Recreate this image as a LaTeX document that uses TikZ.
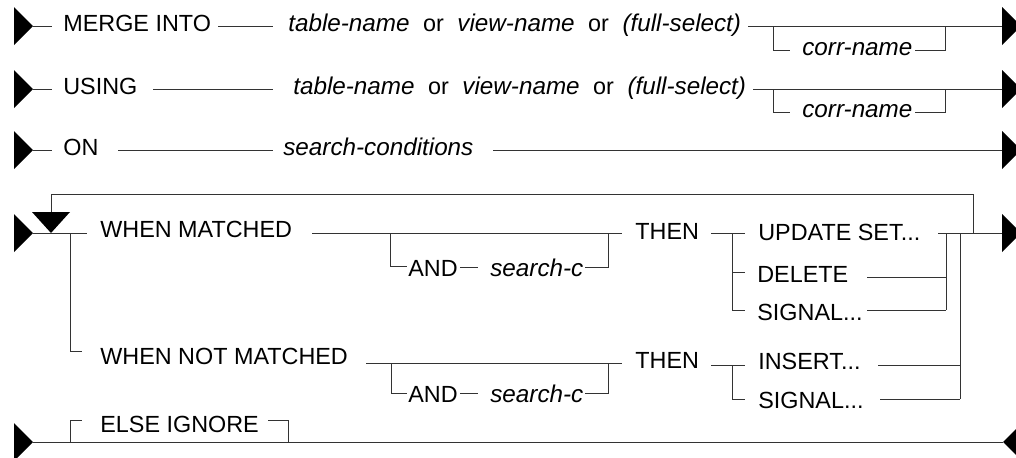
\documentclass[tikz,border=0pt]{standalone}
\usepackage{fontspec}
\setmainfont{Liberation Sans}
\newcommand{\vn}[1]{{\fontsize{13.8}{16}\selectfont\itshape #1}}
\begin{document}
\begin{tikzpicture}[x=0.02cm, y=-0.02cm,
  kw/.style={anchor=base west, inner sep=0, font=\fontsize{13.3}{16}\selectfont},
  var/.style={kw, font=\fontsize{13.8}{16}\selectfont\itshape},
  rail/.style={draw=black!80, line width=0.55pt}]

  \clip (0,0) rectangle (1016,457);

  % start and end marks
  \foreach \y in {26,89,150,233}{
    \fill (14,\y-19) -- (33,\y) -- (14,\y+19) -- cycle;
    \fill (1002,\y-19) -- (1021,\y) -- (1002,\y+19) -- cycle;
  }
  \fill (14,423) -- (33,442) -- (14,461) -- cycle;
  \fill (1003,442) -- (1022,423) -- (1022,461) -- cycle;
  % repeat mark
  \fill (32,212) -- (70,212) -- (51,233) -- cycle;

  % MERGE INTO
  \node[kw] (merge) at (63,31) {MERGE INTO};
  \node[kw] (target1) at (288,31) {\vn{table-name}\hspace{4pt} or \hspace{4pt}\vn{view-name}\hspace{4pt} or \hspace{4pt}\vn{(full-select)}};
  \node[var] (corr1) at (802,55) {corr-name};
  \path (33,26) coordinate (a1) (52,26) coordinate (b1) (218,26) coordinate (c1) (273,26) coordinate (d1)
        (748,26) coordinate (e1) (1002,26) coordinate (f1)
        (773,26) coordinate (g1) (790,50) coordinate (h1) (915,50) coordinate (i1) (945,26) coordinate (j1);
  \draw[rail] (a1) -- (b1) (c1) -- (d1) (e1) -- (f1) (g1) |- (h1) (i1) -| (j1);

  % USING
  \node[kw] (using) at (63,94) {USING};
  \node[kw] (target2) at (293,94) {\vn{table-name}\hspace{4pt} or \hspace{4pt}\vn{view-name}\hspace{4pt} or \hspace{4pt}\vn{(full-select)}};
  \node[var] (corr2) at (802,117) {corr-name};
  \path (33,89) coordinate (a2) (52,89) coordinate (b2) (153,89) coordinate (c2) (273,89) coordinate (d2)
        (753,89) coordinate (e2) (1002,89) coordinate (f2)
        (773,89) coordinate (g2) (790,112) coordinate (h2) (915,112) coordinate (i2) (945,89) coordinate (j2);
  \draw[rail] (a2) -- (b2) (c2) -- (d2) (e2) -- (f2) (g2) |- (h2) (i2) -| (j2);

  % ON
  \node[kw] (on) at (63,155) {ON};
  \node[var] (cond) at (283,155) {search-conditions};
  \path (33,150) coordinate (a3) (52,150) coordinate (b3) (118,150) coordinate (c3) (273,150) coordinate (d3)
        (493,150) coordinate (e3) (1002,150) coordinate (f3);
  \draw[rail] (a3) -- (b3) (c3) -- (d3) (e3) -- (f3);

  % WHEN MATCHED
  \node[kw] (matched) at (100,237) {WHEN MATCHED};
  \node[kw] (and1) at (408,276) {AND};
  \node[var] (sc1) at (490,276) {search-c};
  \node[kw] (then1) at (635,239) {THEN};
  \node[kw] (update) at (758,240) {UPDATE SET...};
  \node[kw] (delete) at (757,282) {DELETE};
  \node[kw] (signal1) at (757,320) {SIGNAL...};
  \path (33,233) coordinate (a4) (87,233) coordinate (b4) (312,233) coordinate (c4) (622,233) coordinate (d4)
        (390,233) coordinate (g4) (407,266) coordinate (h4) (460,267) coordinate (k4) (478,267) coordinate (l4)
        (585,267) coordinate (i4) (608,233) coordinate (j4)
        (711,233) coordinate (e4) (745,233) coordinate (m4) (732,233) coordinate (n4)
        (745,272) coordinate (o4) (745,310) coordinate (p4)
        (938,233) coordinate (q4) (1002,233) coordinate (f4)
        (867,277) coordinate (r4) (946,233) coordinate (s4) (867,310) coordinate (t4) (946,310) coordinate (u4)
        (960,233) coordinate (v4);
  \draw[rail] (a4) -- (b4) (c4) -- (d4) (g4) |- (h4) (k4) -- (l4) (i4) -| (j4)
              (e4) -- (m4) (n4) |- (p4) (n4 |- o4) -- (o4)
              (q4) -- (f4) (s4) -- (u4) (r4) -- (r4 -| s4) (t4) -- (u4);

  % loop back
  \path (51,212) coordinate (lp0) (51,194) coordinate (lp1) (973,233) coordinate (lp2);
  \draw[rail] (lp0) -- (lp1) -| (lp2);

  % WHEN NOT MATCHED
  \node[kw] (notmatched) at (100,364) {WHEN NOT MATCHED};
  \node[kw] (and2) at (408,402) {AND};
  \node[var] (sc2) at (490,402) {search-c};
  \node[kw] (then2) at (635,368) {THEN};
  \node[kw] (insert) at (758,369) {INSERT...};
  \node[kw] (signal2) at (758,408) {SIGNAL...};
  \path (70,233) coordinate (a5) (82,351) coordinate (b5) (366,363) coordinate (c5) (622,363) coordinate (d5)
        (391,363) coordinate (g5) (407,393) coordinate (h5) (460,393) coordinate (k5) (478,393) coordinate (l5)
        (585,393) coordinate (i5) (608,363) coordinate (j5)
        (711,365) coordinate (e5) (745,365) coordinate (m5) (732,365) coordinate (n5) (745,399) coordinate (p5)
        (878,365) coordinate (r5) (960,365) coordinate (s5) (880,399) coordinate (t5) (960,399) coordinate (u5);
  \draw[rail] (a5) |- (b5) (c5) -- (d5) (g5) |- (h5) (k5) -- (l5) (i5) -| (j5)
              (e5) -- (m5) (n5) |- (p5) (r5) -- (s5) (t5) -- (u5) (v4) -- (u5);

  % ELSE IGNORE
  \node[kw] (elseig) at (100,432) {ELSE IGNORE};
  \path (33,442) coordinate (a6) (1003,442) coordinate (f6) (70,442) coordinate (g6) (82,420) coordinate (h6)
        (268,420) coordinate (i6) (288,442) coordinate (j6);
  \draw[rail] (a6) -- (f6) (g6) |- (h6) (i6) -| (j6);
\end{tikzpicture}
\end{document}
